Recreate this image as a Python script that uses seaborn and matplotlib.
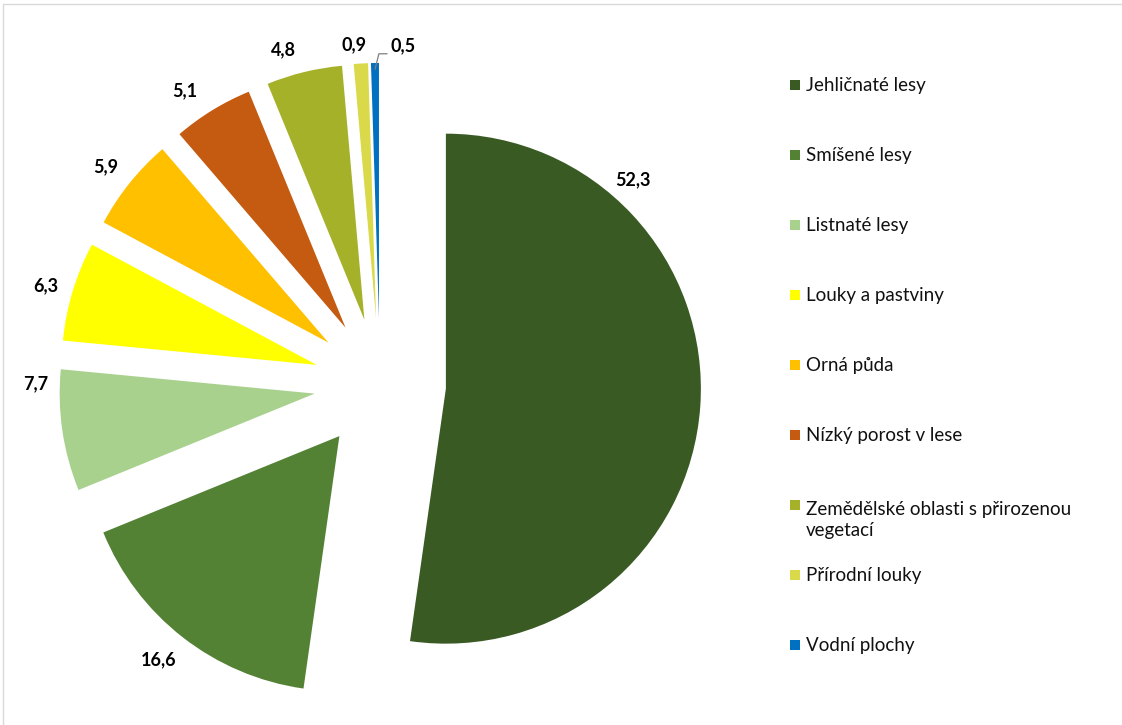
import matplotlib
matplotlib.use("Agg")
import matplotlib.pyplot as plt
from matplotlib.patches import Rectangle
from matplotlib.lines import Line2D
import numpy as np
import seaborn as sns

# ---- data ----
categories = ["Jehličnaté lesy", "Smíšené lesy", "Listnaté lesy", "Louky a pastviny",
              "Orná půda", "Nízký porost v lese",
              "Zemědělské oblasti s přirozenou\nvegetací", "Přírodní louky", "Vodní plochy"]
values = [52.3, 16.6, 7.7, 6.3, 5.9, 5.1, 4.8, 0.9, 0.5]
colors = ["#3A5A24", "#548235", "#A9D18E", "#FFFF00", "#FFC000", "#C55A11",
          "#A6B12A", "#D9D94A", "#0070C0"]
# label positions (in pie-radius units, relative to the pie centre)
label_pos = [(0.99, 0.80), (-0.87, -1.08), (-1.35, 0.0), (-1.31, 0.385), (-1.075, 0.85),
             (-0.765, 1.15), (-0.38, 1.31), (-0.10, 1.33), (0.09, 1.325)]

sns.set_theme(style="white")
plt.rcParams["font.family"] = ["Lato", "DejaVu Sans"]

W, H = 1122, 725
fig = plt.figure(figsize=(W / 100, H / 100), dpi=100)
fig.patch.set_facecolor("white")
ax = fig.add_axes([0, 0, 1, 1])

S = 255.0          # pixels per radius unit
cx, cy = 380, 384  # pie centre in pixels (from top-left)

wedges, _ = ax.pie(values, colors=sns.color_palette(colors), startangle=90,
                   counterclock=False, explode=[0.259] * len(values),
                   wedgeprops=dict(linewidth=0))
ax.set_xlim(-cx / S, (W - cx) / S)
ax.set_ylim(-(H - cy) / S, cy / S)
ax.set_aspect("auto")
ax.axis("off")

for i, (v, (lx, ly)) in enumerate(zip(values, label_pos)):
    txt = f"{v:.1f}".replace(".", ",")
    if i == len(values) - 1:
        w = wedges[i]
        mid = np.deg2rad((w.theta1 + w.theta2) / 2)
        px = w.center[0] + w.r * np.cos(mid) * 0.995
        py = w.center[1] + w.r * np.sin(mid) * 0.975
        ax.annotate(txt, xy=(px, py), xytext=(lx, ly), ha="center", va="center",
                    fontsize=13, fontweight="bold", color="black",
                    arrowprops=dict(arrowstyle="-", color="#7F7F7F", lw=0.9,
                                    relpos=(0.0, 0.05), shrinkA=0, shrinkB=0,
                                    connectionstyle="angle,angleA=0,angleB=76,rad=0"))
    else:
        ax.text(lx, ly, txt, ha="center", va="center", fontsize=13,
                fontweight="bold", color="black")

# ---- legend (manual, Excel-like even spacing) ----
for i, (lab, col) in enumerate(zip(categories, colors)):
    yc = 85 + 70 * i
    nlines = lab.count("\n") + 1
    fig.add_artist(Rectangle((790 / W, 1 - (yc + 5) / H), 10 / W, 10 / H,
                             transform=fig.transFigure, facecolor=col, edgecolor="none"))
    fig.text(806 / W, 1 - (yc + 6 + 25 * (nlines - 1)) / H, lab, ha="left", va="baseline",
             fontsize=13.5, color="#111111", linespacing=1.3)

# ---- light frame ----
fig.add_artist(Line2D([3 / W, 1], [1 - 4 / H, 1 - 4 / H], transform=fig.transFigure,
                      color="#D9D9D9", lw=1))
fig.add_artist(Line2D([3 / W, 3 / W], [0, 1 - 4 / H], transform=fig.transFigure,
                      color="#D9D9D9", lw=1))

fig.savefig("out.png", dpi=100, facecolor="white")
